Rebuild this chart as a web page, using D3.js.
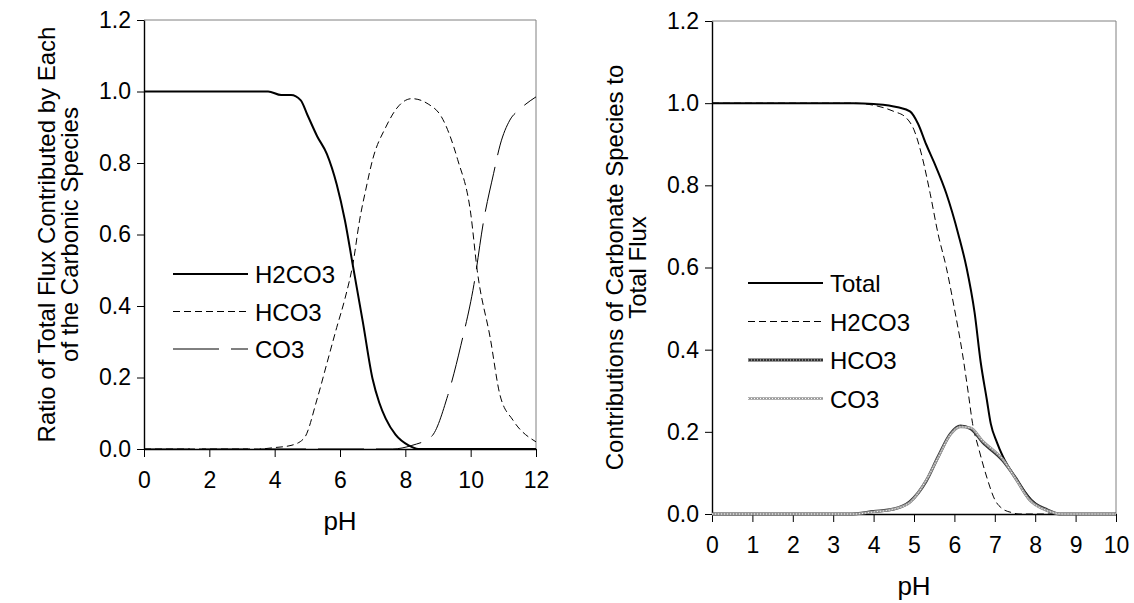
<!DOCTYPE html>
<html>
<head>
<meta charset="utf-8">
<script src="https://cdn.jsdelivr.net/npm/d3@7"></script>
<style>
  body { margin: 0; background: #fff; }
  svg text { font-family: Arial, "Liberation Sans", sans-serif; fill: #000; }
</style>
</head>
<body>
<div id="chart"></div>
<script>
// data: [pH, value]
var leftH2co3 = [[0,1],[3.8,1],[4.2,0.99],[4.5,0.99],[4.8,0.975],[5.0,0.935],[5.3,0.875],[5.6,0.825],[5.9,0.74],[6.15,0.64],[6.4,0.51],[6.7,0.355],[7.0,0.195],[7.2,0.13],[7.4,0.085],[7.7,0.04],[8.1,0.01],[8.4,0],[12,0]];
var leftHco3 = [[0,0],[3.5,0],[4.0,0.004],[4.5,0.01],[4.9,0.03],[5.3,0.14],[5.6,0.24],[5.9,0.34],[6.15,0.42],[6.4,0.52],[6.6,0.64],[6.8,0.73],[7.0,0.81],[7.4,0.9],[7.8,0.96],[8.2,0.98],[8.7,0.965],[9.1,0.93],[9.6,0.81],[10.0,0.66],[10.2,0.5],[10.6,0.31],[10.9,0.15],[11.3,0.08],[12,0.02]];
var leftCo3 = [[0,0],[7.6,0],[8.2,0.01],[8.8,0.035],[9.3,0.15],[9.7,0.29],[10.1,0.46],[10.4,0.64],[10.7,0.77],[10.9,0.85],[11.2,0.92],[11.5,0.95],[12,0.985]];

var rightTotal = [[0,1],[3.5,1],[4.0,0.998],[4.6,0.99],[4.9,0.98],[5.1,0.95],[5.3,0.9],[5.5,0.855],[5.8,0.78],[6.1,0.68],[6.3,0.6],[6.5,0.49],[6.65,0.37],[6.8,0.28],[6.9,0.22],[7.05,0.175],[7.2,0.14],[7.5,0.09],[7.9,0.035],[8.3,0.008],[8.6,0],[10,0]];
var rightH2co3 = [[0,1],[3.5,1],[4.0,0.995],[4.5,0.98],[4.8,0.965],[5.0,0.935],[5.2,0.87],[5.4,0.78],[5.6,0.68],[5.8,0.6],[6.0,0.5],[6.2,0.39],[6.35,0.29],[6.45,0.22],[6.6,0.16],[6.8,0.09],[7.0,0.035],[7.2,0.012],[7.4,0.004],[7.6,0],[10,0]];
var rightHco3 = [[0,0],[3.4,0],[4.0,0.006],[4.5,0.012],[4.9,0.03],[5.3,0.08],[5.6,0.14],[5.9,0.195],[6.15,0.214],[6.4,0.208],[6.7,0.175],[7.2,0.13],[7.5,0.09],[7.85,0.037],[8.3,0.01],[8.6,0],[10,0]];
var rightCo3 = [[0,0],[3.5,0],[4.0,0.005],[4.5,0.012],[4.9,0.028],[5.3,0.082],[5.6,0.138],[5.9,0.193],[6.15,0.212],[6.4,0.21],[6.7,0.178],[7.2,0.133],[7.5,0.088],[7.85,0.035],[8.3,0.008],[8.7,0],[10,0]];

var yTicks = [0, 0.2, 0.4, 0.6, 0.8, 1.0, 1.2];
var leftXTicks = [0, 2, 4, 6, 8, 10, 12];
var rightXTicks = [0, 1, 2, 3, 4, 5, 6, 7, 8, 9, 10];

var svg = d3.select("#chart").append("svg")
    .attr("width", 1134)
    .attr("height", 603);

// styles for each line kind
var styles = {
    solid: function (p) { p.attr("stroke", "#000").attr("stroke-width", 2); },
    dash: function (p) { p.attr("stroke", "#000").attr("stroke-width", 1).attr("stroke-dasharray", "7,4"); },
    longdash: function (p) { p.attr("stroke", "#000").attr("stroke-width", 1).attr("stroke-dasharray", "46,12"); },
    thickdot: function (p) { p.attr("stroke", "#333").attr("stroke-width", 3); },
    thickdotTop: function (p) { p.attr("stroke", "#ccc").attr("stroke-width", 1).attr("stroke-dasharray", "1,2"); },
    lightdot: function (p) { p.attr("stroke", "#999").attr("stroke-width", 2.5); },
    lightdotTop: function (p) { p.attr("stroke", "#fff").attr("stroke-width", 1).attr("stroke-dasharray", "1,2"); }
};

function drawPanel(opt) {
    var x = d3.scaleLinear().domain(opt.xDomain).range([opt.left, opt.right]);
    var y = d3.scaleLinear().domain([0, 1.2]).range([opt.bottom, opt.top]);
    var g = svg.append("g");

    // frame top & right
    g.append("path")
        .attr("d", "M" + opt.left + "," + opt.top + "H" + opt.right + "V" + opt.bottom)
        .attr("fill", "none").attr("stroke", "#808080").attr("stroke-width", 1);

    var yAxis = g.append("g")
        .attr("transform", "translate(" + opt.left + ",0)")
        .call(d3.axisLeft(y).tickValues(yTicks).tickFormat(d3.format(".1f")).tickSize(7).tickSizeOuter(0).tickPadding(6));
    var xAxis = g.append("g")
        .attr("transform", "translate(0," + opt.bottom + ")")
        .call(d3.axisBottom(x).tickValues(opt.xTicks).tickFormat(d3.format("d")).tickSize(8).tickSizeOuter(0).tickPadding(15));
    [yAxis, xAxis].forEach(function (a) {
        a.selectAll("text").style("font-size", "23px").attr("font-family", null);
        a.selectAll("line").attr("stroke", "#000");
        a.select(".domain").attr("stroke", "#000").attr("stroke-width", 1.4);
    });

    var line = d3.line()
        .x(function (d) { return x(d[0]); })
        .y(function (d) { return y(d[1]); })
        .curve(d3.curveMonotoneX);

    opt.series.forEach(function (s) {
        s.styles.forEach(function (st) {
            g.append("path").datum(s.data)
                .attr("fill", "none").attr("d", line)
                .call(styles[st]);
        });
    });

    // legend
    opt.series.forEach(function (s, i) {
        var ly = opt.legendY + i * opt.legendStep;
        s.styles.forEach(function (st) {
            g.append("line")
                .attr("x1", opt.legendX).attr("x2", opt.legendX + 75)
                .attr("y1", ly).attr("y2", ly)
                .call(styles[st]);
        });
        g.append("text")
            .attr("x", opt.legendX + 82).attr("y", ly + 9)
            .style("font-size", "24px")
            .text(s.name);
    });

    // axis titles
    g.append("text")
        .attr("x", (opt.left + opt.right) / 2).attr("y", opt.bottom + 81)
        .attr("text-anchor", "middle").style("font-size", "26px")
        .text("pH");
    opt.yTitle.forEach(function (t, i) {
        g.append("text")
            .attr("transform", "translate(" + (opt.titleX + i * 23) + "," + (opt.top + opt.bottom) / 2 + ") rotate(-90)")
            .attr("text-anchor", "middle").style("font-size", "24px")
            .text(t);
    });
}

drawPanel({
    left: 144, right: 536, top: 20, bottom: 449,
    xDomain: [0, 12], xTicks: leftXTicks,
    legendX: 173, legendY: 274, legendStep: 37.5,
    titleX: 55,
    yTitle: ["Ratio of Total Flux Contributed by Each", "of the Carbonic Species"],
    series: [
        {name: "H2CO3", data: leftH2co3, styles: ["solid"]},
        {name: "HCO3", data: leftHco3, styles: ["dash"]},
        {name: "CO3", data: leftCo3, styles: ["longdash"]}
    ]
});

drawPanel({
    left: 712, right: 1116, top: 21, bottom: 514,
    xDomain: [0, 10], xTicks: rightXTicks,
    legendX: 748, legendY: 283, legendStep: 38.5,
    titleX: 623,
    yTitle: ["Contributions of Carbonate Species to", "Total Flux"],
    series: [
        {name: "Total", data: rightTotal, styles: ["solid"]},
        {name: "H2CO3", data: rightH2co3, styles: ["dash"]},
        {name: "HCO3", data: rightHco3, styles: ["thickdot", "thickdotTop"]},
        {name: "CO3", data: rightCo3, styles: ["lightdot", "lightdotTop"]}
    ]
});
</script>
</body>
</html>
